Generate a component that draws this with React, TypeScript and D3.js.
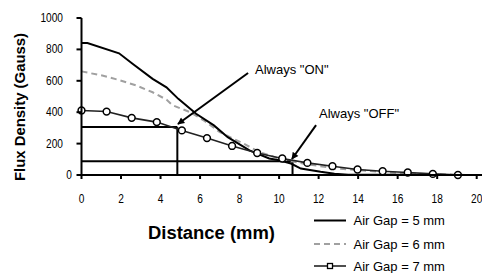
import React from 'react';
import * as d3 from 'd3';

// ---- data ----
const gap5X = [0, 0.3, 1.9, 2.6, 3.6, 4.3, 4.9, 5.8, 6.7, 7.4, 8.5, 9.5, 10.0, 10.6, 11.1, 12.1, 12.8, 13.5, 16, 19.7];
const gap5Y = [840, 840, 775, 707, 612, 558, 485, 390, 316, 241, 157, 105, 94, 73, 41, 20, 8, 2, 1, 0];

const gap6X = [0, 1.1, 1.9, 2.8, 3.6, 4.3, 4.6, 5.5, 6.2, 7.0, 8.2, 9.0, 10.0, 11.2, 12.9, 15.1, 16.5, 18.0, 19.5];
const gap6Y = [660, 632, 605, 569, 527, 480, 445, 400, 347, 273, 200, 146, 105, 73, 41, 20, 10, 5, 0];

const gap7X = [0, 1.27, 2.54, 3.81, 5.08, 6.35, 7.62, 8.89, 10.16, 11.43, 12.7, 13.97, 15.24, 16.51, 17.78, 19.05];
const gap7Y = [411, 404, 364, 337, 284, 235, 185, 140, 105, 77, 56, 35, 24, 16, 7, 0];

const xTicks = [0, 2, 4, 6, 8, 10, 12, 14, 16, 18, 20];
const yTicks = [0, 200, 400, 600, 800, 1000];
const seriesNames = ['Air Gap = 5 mm', 'Air Gap = 6 mm', 'Air Gap = 7 mm'];

const thresholdX = [4.85, 10.68];
const thresholdY = [305, 88];
const annotationLabels = ['Always "ON"', 'Always "OFF"'];
const labelX = [8.78, 12.02];
const labelY = [646, 365];
const arrowFromX = [8.43, 11.87];
const arrowFromY = [650, 318];
const arrowToX = [4.88, 10.65];
const arrowToY = [325, 102];

const W = 482;
const H = 273;
const FONT = "'Liberation Sans', Arial, sans-serif";

export default function App() {
  const x = d3.scaleLinear().domain([0, 20]).range([81.5, 476.7]);
  const y = d3.scaleLinear().domain([0, 1000]).range([175, 18]);
  const line = d3
    .line<[number, number]>()
    .x((d) => x(d[0]))
    .y((d) => y(d[1]));
  const zip = (a: number[], b: number[]) => a.map((v, i) => [v, b[i]] as [number, number]);
  const s5 = zip(gap5X, gap5Y);
  const s6 = zip(gap6X, gap6Y);
  const s7 = zip(gap7X, gap7Y);

  const legendY = [220.5, 244, 266];
  const legX0 = 314;
  const legX1 = 346;

  return (
    <svg
      width={W}
      height={H}
      style={{ position: 'absolute', left: 0, top: 0, background: '#fff' }}
      fontFamily={FONT}
    >
      <defs>
        <marker
          id="arrow"
          viewBox="0 0 10 10"
          refX="9"
          refY="5"
          markerWidth="8"
          markerHeight="7"
          markerUnits="userSpaceOnUse"
          orient="auto"
        >
          <path d="M0,0 L10,5 L0,10 z" fill="#000" />
        </marker>
      </defs>
      <rect width={W} height={H} fill="#fff" />

      {/* threshold lines */}
      {thresholdX.map((tx, i) => (
        <g key={'th' + i} stroke="#000" strokeWidth={2} fill="none">
          <line x1={x(0)} x2={x(tx)} y1={y(thresholdY[i])} y2={y(thresholdY[i])} />
          <line x1={x(tx)} x2={x(tx)} y1={y(thresholdY[i])} y2={y(0)} />
        </g>
      ))}

      {/* series */}
      <path d={line(s6) || ''} fill="none" stroke="#a0a0a0" strokeWidth={2} strokeDasharray="6,4" />
      <path d={line(s5) || ''} fill="none" stroke="#000" strokeWidth={2} />
      <path d={line(s7) || ''} fill="none" stroke="#222" strokeWidth={1.6} />
      {s7.map((d, i) => (
        <circle key={'m' + i} cx={x(d[0])} cy={y(d[1])} r={3.4} fill="#fff" stroke="#000" strokeWidth={1.5} />
      ))}

      {/* axes */}
      <line x1={x(0)} x2={482} y1={y(0)} y2={y(0)} stroke="#000" strokeWidth={2} />
      <line x1={x(0)} x2={x(0)} y1={y(1000)} y2={y(0)} stroke="#000" strokeWidth={2} />
      {xTicks.map((t) => (
        <g key={'xt' + t}>
          <line x1={x(t)} x2={x(t)} y1={y(0)} y2={y(0) + 4} stroke="#000" strokeWidth={2} />
          <text
            transform={`translate(${x(t)},203) scale(0.78,1)`}
            textAnchor="middle"
            fontSize={13}
            fill="#000"
          >
            {t}
          </text>
        </g>
      ))}
      {yTicks.map((t) => (
        <g key={'yt' + t}>
          <line x1={x(0) - 5} x2={x(0)} y1={y(t)} y2={y(t)} stroke="#000" strokeWidth={2} />
          <text
            transform={`translate(${t === 0 ? 72 : 63},${y(t) + 4}) scale(0.78,1)`}
            textAnchor="end"
            fontSize={13}
            fill="#000"
          >
            {t}
          </text>
        </g>
      ))}

      {/* axis titles */}
      <text
        x={148}
        y={238.5}
        fontSize={17.5}
        fontWeight="bold"
        fill="#000"
        textLength={127}
        lengthAdjust="spacingAndGlyphs"
      >
        Distance (mm)
      </text>
      <text
        transform={`translate(25,181) rotate(-90)`}
        fontSize={14.5}
        fontWeight="bold"
        fill="#000"
        textLength={148}
        lengthAdjust="spacingAndGlyphs"
      >
        Flux Density (Gauss)
      </text>

      {/* annotations */}
      {annotationLabels.map((lab, i) => (
        <g key={'an' + i}>
          <line
            x1={x(arrowFromX[i])}
            y1={y(arrowFromY[i])}
            x2={x(arrowToX[i])}
            y2={y(arrowToY[i])}
            stroke="#000"
            strokeWidth={2}
            markerEnd="url(#arrow)"
          />
          <text x={x(labelX[i])} y={y(labelY[i])} fontSize={13} fill="#000">
            {lab}
          </text>
        </g>
      ))}

      {/* legend */}
      {seriesNames.map((name, i) => (
        <g key={'lg' + i}>
          <line
            x1={legX0}
            x2={legX1}
            y1={legendY[i]}
            y2={legendY[i]}
            stroke={i === 1 ? '#a0a0a0' : i === 0 ? '#000' : '#222'}
            strokeWidth={i === 2 ? 1.6 : 2}
            strokeDasharray={i === 1 ? '6,4' : undefined}
          />
          {i === 2 && (
            <rect
              x={(legX0 + legX1) / 2 - 2.5}
              y={legendY[i] - 2.5}
              width={5}
              height={5}
              fill="#fff"
              stroke="#000"
              strokeWidth={1.3}
            />
          )}
          <text x={353.5} y={legendY[i] + 4.5} fontSize={13} fill="#000">
            {name}
          </text>
        </g>
      ))}
    </svg>
  );
}
